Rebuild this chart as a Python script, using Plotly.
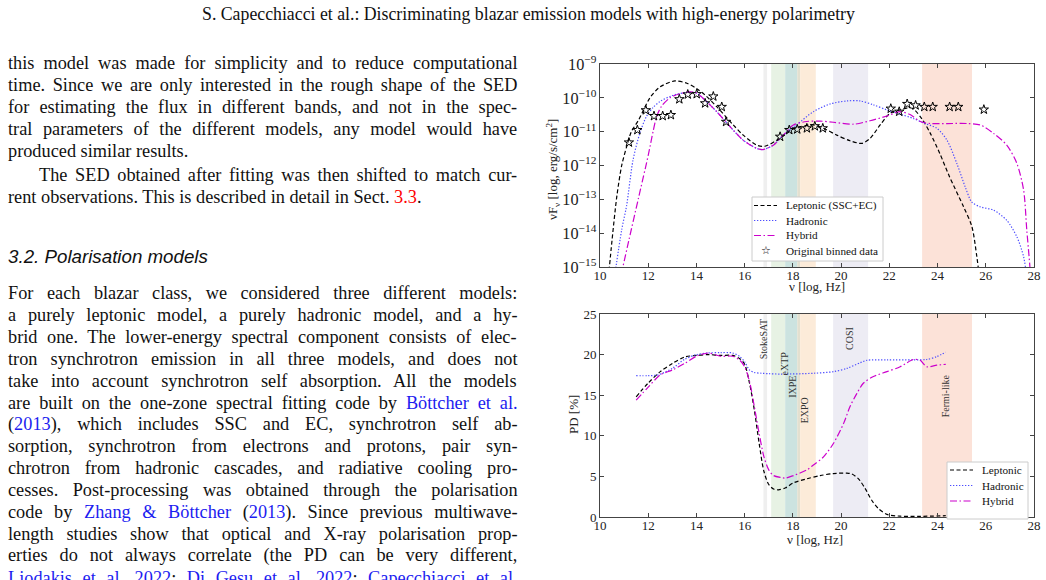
import glob
import struct
import plotly.graph_objects as go

# ---------------- data ----------------
# SED panel (nu F_nu in erg/s/cm^2 vs log10 nu)
sed_lep_x = [10.35, 10.5, 10.7, 10.9, 11.1, 11.3, 11.6, 12.07, 12.49, 13.11, 13.6, 14.0, 14.36, 14.84,
             15.52, 15.94, 16.5, 16.84, 17.33, 17.9, 18.3, 18.85, 19.27, 19.82, 20.37, 20.86, 21.2,
             21.62, 22.03, 22.45, 22.8, 23.0, 23.35, 23.7, 24.1, 24.5, 25.08, 25.42, 25.63, 25.75]
sed_lep_y = [5e-16, 6.3e-15, 1.26e-13, 1.0e-12, 3.5e-12, 1.0e-11, 2.2e-11, 1.0e-10, 2.1e-10, 3.15e-10,
             2.7e-10, 1.9e-10, 1.2e-10, 5.5e-11, 1.6e-11, 7.9e-12, 4.0e-12, 3.7e-12, 5.6e-12, 1.12e-11,
             1.41e-11, 1.58e-11, 1.26e-11, 7.9e-12, 5.4e-12, 4.5e-12, 6.3e-12, 1.58e-11, 3.5e-11,
             4.4e-11, 5.1e-11, 4.7e-11, 2.4e-11, 8.9e-12, 2.2e-12, 4.6e-13, 6.0e-14, 1.6e-14, 2.0e-15,
             4.0e-16]
sed_had_x = [10.6, 10.9, 11.1, 11.37, 11.65, 11.92, 12.2, 12.5, 13.0, 13.6, 14.0, 14.36, 14.84, 15.52,
             15.94, 16.5, 16.75, 17.19, 17.6, 18.16, 18.85, 19.55, 20.24, 20.79, 21.34, 21.9, 22.45,
             23.0, 23.42, 23.97, 24.39, 24.8, 25.15, 25.42, 25.77, 26.32, 26.87, 27.29, 27.57, 27.72]
sed_had_y = [5e-16, 1.26e-14, 6.3e-14, 1.45e-12, 8.9e-12, 2.75e-11, 5.2e-11, 7.9e-11, 1.17e-10,
             1.45e-10, 1.38e-10, 8.5e-11, 3.9e-11, 1.12e-11, 5.6e-12, 3.2e-12, 2.95e-12, 4.0e-12,
             7.9e-12, 1.6e-11, 3.9e-11, 6.6e-11, 8.1e-11, 8.1e-11, 6.2e-11, 4.4e-11, 3.3e-11, 2.45e-11,
             1.8e-11, 1.26e-11, 5.6e-12, 1.15e-12, 2.3e-13, 8.3e-14, 6.0e-14, 4.8e-14, 2.4e-14,
             7.8e-15, 2.0e-15, 4.0e-16]
sed_hyb_x = [10.88, 11.2, 11.6, 12.0, 12.2, 12.35, 12.55, 12.9, 13.3, 13.7, 14.0, 14.36, 14.84, 15.52,
             15.94, 16.5, 16.75, 17.19, 17.6, 18.02, 18.58, 19.13, 19.68, 20.51, 21.2, 21.9, 22.45,
             22.86, 23.28, 23.7, 24.39, 25.22, 25.77, 26.32, 26.87, 27.29, 27.57, 27.7, 27.82, 27.86]
sed_hyb_y = [6e-16, 6.3e-15, 1.12e-13, 2.0e-12, 1.0e-11, 2.8e-11, 5.6e-11, 1.0e-10, 1.32e-10, 1.5e-10,
             1.4e-10, 8.5e-11, 3.9e-11, 1.12e-11, 5.6e-12, 3.2e-12, 2.95e-12, 4.0e-12, 7.9e-12,
             1.58e-11, 2.0e-11, 2.05e-11, 1.9e-11, 1.66e-11, 2.1e-11, 2.9e-11, 3.9e-11, 3.2e-11,
             2.0e-11, 1.74e-11, 1.74e-11, 1.74e-11, 1.58e-11, 8.9e-12, 4.0e-12, 1.15e-12, 1.86e-13,
             1.26e-14, 1.26e-15, 5e-16]
data_x = [11.20, 11.55, 11.90, 12.24, 12.60, 12.94, 13.29, 13.64, 14.01, 14.36, 14.70, 15.05, 15.23,
          17.47, 17.85, 18.18, 18.58, 18.91, 19.24, 22.06, 22.41, 22.74, 23.09, 23.45, 23.80, 24.50,
          24.86, 25.92]
data_y = [4.8e-12, 1.12e-11, 4.3e-11, 2.9e-11, 2.9e-11, 3.1e-11, 9.1e-11, 1.26e-10, 1.29e-10, 6.9e-11,
          1.1e-10, 5.4e-11, 1.95e-11, 7.1e-12, 1.12e-11, 1.17e-11, 1.26e-11, 1.45e-11, 1.26e-11,
          4.8e-11, 3.9e-11, 6.6e-11, 6.0e-11, 5.4e-11, 5.4e-11, 5.4e-11, 5.4e-11, 4.5e-11]

# PD panel (%)
pd_lep_x = [11.5, 12.0, 12.5, 13.0, 13.5, 14.0, 14.5, 15.0, 15.5, 15.8, 16.0, 16.2, 16.4, 16.6, 16.8,
            17.0, 17.2, 17.4, 17.7, 18.02, 18.58, 19.13, 19.68, 20.24, 20.44, 20.72, 21.0, 21.27,
            21.55, 21.9, 22.45, 23.28, 24.34]
pd_lep_y = [14.8, 16.5, 17.9, 18.9, 19.7, 19.9, 20.0, 19.9, 19.9, 19.5, 18.8, 16.5, 13.2, 9.1, 5.6,
            4.0, 3.45, 3.35, 3.6, 4.2, 4.7, 5.1, 5.35, 5.4, 5.3, 4.7, 3.5, 2.06, 1.03, 0.33, 0.1, 0.08,
            0.16]
pd_had_x = [11.5, 12.0, 12.4, 13.0, 13.5, 14.0, 14.5, 15.0, 15.5, 15.8, 16.0, 16.2, 16.4, 16.7, 17.0,
            17.47, 18.85, 19.68, 20.24, 20.79, 21.07, 21.9, 23.0, 23.55, 23.97, 24.34]
pd_had_y = [17.4, 17.4, 17.5, 18.3, 19.4, 20.0, 20.2, 20.25, 20.2, 19.75, 19.1, 18.1, 17.8, 17.7,
            17.65, 17.6, 17.7, 17.9, 18.3, 19.0, 19.3, 19.35, 19.35, 19.4, 19.75, 20.3]
pd_hyb_x = [11.5, 12.0, 12.5, 13.0, 13.5, 14.0, 14.5, 15.0, 15.5, 15.8, 16.0, 16.2, 16.4, 16.6, 16.8,
            17.0, 17.2, 17.5, 17.7, 18.02, 18.58, 18.85, 19.27, 19.68, 20.1, 20.37, 20.65, 20.93,
            21.34, 21.9, 22.45, 23.0, 23.28, 23.55, 23.97, 24.34]
pd_hyb_y = [14.4, 16.0, 17.5, 18.1, 18.9, 19.8, 20.2, 19.8, 19.8, 19.3, 18.5, 16.7, 13.6, 10.3, 7.4,
            5.8, 5.1, 4.86, 4.8, 5.1, 5.8, 6.4, 7.4, 9.05, 11.5, 13.6, 15.2, 16.5, 17.3, 17.9, 18.5,
            19.4, 19.3, 18.5, 18.7, 18.8]

# Instrument bands (log nu edges) and labels
band_x0 = [16.78, 17.10, 17.68, 18.18, 18.30, 19.67, 23.36]
band_x1 = [16.93, 17.68, 18.18, 18.30, 18.95, 21.12, 25.43]
band_labels = ["StokeSAT", "eXTP", "IXPE", "EXPO", "COSI", "Fermi-like"]
band_label_x = [16.76, 17.67, 17.95, 18.48, 20.35, 24.32]
band_label_y = [22.0, 18.9, 16.0, 13.2, 22.0, 14.9]

x_ticks = [10, 12, 14, 16, 18, 20, 22, 24, 26, 28]
pd_ticks = [0, 5, 10, 15, 20, 25]

sed_legend_names = ["Leptonic (SSC+EC)", "Hadronic", "Hybrid", "Original binned data"]
pd_legend_names = ["Leptonic", "Hadronic", "Hybrid"]

# ---------------- page text ----------------
HEADER = "S. Capecchiacci et al.: Discriminating blazar emission models with high-energy polarimetry"
HEADING = "3.2. Polarisation models"
R, B = "#ff0000", "#1c1cf0"
# (segments, justified, indent)
LINES_1 = [
    ([("this model was made for simplicity and to reduce computational", None)], True, False),
    ([("time. Since we are only interested in the rough shape of the SED", None)], True, False),
    ([("for estimating the flux in different bands, and not in the spec-", None)], True, False),
    ([("tral parameters of the different models, any model would have", None)], True, False),
    ([("produced similar results.", None)], False, False),
    ([("The SED obtained after fitting was then shifted to match cur-", None)], True, True),
    ([("rent observations. This is described in detail in Sect. ", None), ("3.3", R), (".", None)], False, False),
]
LINES_2 = [
    ([("For each blazar class, we considered three different models:", None)], True, False),
    ([("a purely leptonic model, a purely hadronic model, and a hy-", None)], True, False),
    ([("brid one. The lower-energy spectral component consists of elec-", None)], True, False),
    ([("tron synchrotron emission in all three models, and does not", None)], True, False),
    ([("take into account synchrotron self absorption. All the models", None)], True, False),
    ([("are built on the one-zone spectral fitting code by ", None), ("Böttcher et al.", B)], True, False),
    ([("(", None), ("2013", B), ("), which includes SSC and EC, synchrotron self ab-", None)], True, False),
    ([("sorption, synchrotron from electrons and protons, pair syn-", None)], True, False),
    ([("chrotron from hadronic cascades, and radiative cooling pro-", None)], True, False),
    ([("cesses. Post-processing was obtained through the polarisation", None)], True, False),
    ([("code by ", None), ("Zhang & Böttcher", B), (" (", None), ("2013", B),
      ("). Since previous multiwave-", None)], True, False),
    ([("length studies show that optical and X-ray polarisation prop-", None)], True, False),
    ([("erties do not always correlate (the PD can be very different,", None)], True, False),
    ([("Liodakis et al. 2022", B), ("; ", None), ("Di Gesu et al. 2022", B), ("; ", None),
      ("Capecchiacci et al.", B)], True, False),
]
LINES_1_Y = [63, 85, 107, 128.7, 150.6, 175, 197]
LINES_2_Y = [293.0, 314.9, 336.8, 358.7, 380.6, 402.5, 424.4, 446.3, 468.2, 490.1, 512.0, 533.9,
             555.8, 577.7]

W, H = 1046, 580
TEXT_LEFT, TEXT_RIGHT, INDENT = 7, 517, 38
BODY_SIZE = 18.3


# ---------------- minimal TrueType advance-width reader ----------------
class TTF:
    def __init__(self, path):
        d = open(path, "rb").read()
        self.d = d
        n = struct.unpack(">H", d[4:6])[0]
        t = {}
        for i in range(n):
            tag, _, off, ln = struct.unpack(">4sIII", d[12 + 16 * i:28 + 16 * i])
            t[tag.decode("latin1")] = off
        self.upm = struct.unpack(">H", d[t["head"] + 18:t["head"] + 20])[0]
        nhm = struct.unpack(">H", d[t["hhea"] + 34:t["hhea"] + 36])[0]
        hm = t["hmtx"]
        self.adv = [struct.unpack(">H", d[hm + 4 * i:hm + 4 * i + 2])[0] for i in range(nhm)]
        cm = t["cmap"]
        nsub = struct.unpack(">H", d[cm + 2:cm + 4])[0]
        sub = None
        for i in range(nsub):
            pid, eid, off = struct.unpack(">HHI", d[cm + 4 + 8 * i:cm + 12 + 8 * i])
            fmt = struct.unpack(">H", d[cm + off:cm + off + 2])[0]
            if fmt == 4 and (pid == 3 or pid == 0):
                sub = cm + off
                break
        segx2 = struct.unpack(">H", d[sub + 6:sub + 8])[0]
        self.seg = segx2 // 2
        self.endp = sub + 14
        self.startp = sub + 16 + segx2
        self.deltap = sub + 16 + 2 * segx2
        self.rangep = sub + 16 + 3 * segx2
        self.cache = {}

    def _u16(self, p):
        return struct.unpack(">H", self.d[p:p + 2])[0]

    def gid(self, c):
        for i in range(self.seg):
            if self._u16(self.endp + 2 * i) >= c:
                start = self._u16(self.startp + 2 * i)
                if start > c:
                    return 0
                delta = struct.unpack(">h", self.d[self.deltap + 2 * i:self.deltap + 2 * i + 2])[0]
                ro = self._u16(self.rangep + 2 * i)
                if ro == 0:
                    return (c + delta) & 0xFFFF
                g = self._u16(self.rangep + 2 * i + ro + 2 * (c - start))
                return (g + delta) & 0xFFFF if g else 0
        return 0

    def width(self, s, size):
        tot = 0
        for ch in s:
            if ch not in self.cache:
                g = self.gid(ord(ch))
                self.cache[ch] = self.adv[g] if g < len(self.adv) else self.adv[-1]
            tot += self.cache[ch]
        return tot * size / self.upm


def find_font(name):
    hits = glob.glob("/usr/share/fonts/**/" + name, recursive=True)
    if not hits:
        hits = glob.glob("/usr/**/" + name, recursive=True)
    return TTF(hits[0]) if hits else None


try:
    SERIF = find_font("LiberationSerif-Regular.ttf")
except Exception:
    SERIF = None
try:
    SANS_I = find_font("LiberationSans-Italic.ttf")
except Exception:
    SANS_I = None


def fit_size(font, text, target, default):
    if font is None:
        return default
    return target * font.upm / font.width(text, font.upm)


def esc(s):
    return s.replace("&", "&amp;").replace("<", "&lt;").replace(">", "&gt;")


def build_line(segments, justified, indent):
    plain = "".join(s for s, _ in segments)
    x0 = INDENT if indent else TEXT_LEFT
    ws = 0.0
    if justified and SERIF is not None:
        nat = SERIF.width(plain, BODY_SIZE)
        nsp = plain.count(" ")
        if nsp:
            ws = (TEXT_RIGHT - x0 - nat) / nsp
    inner = ""
    for s, col in segments:
        if col:
            inner += '<span style="color:%s">%s</span>' % (col, esc(s))
        else:
            inner += esc(s)
    if abs(ws) > 0.01:
        inner = '<span style="word-spacing:%.2fpx">%s</span>' % (ws, inner)
    return inner, x0


def px(x):
    return x / W


def py(y):
    return 1 - y / H


def paper_text(text, x, y, size, family="Liberation Serif", color="#111", xanchor="center",
               angle=0):
    return dict(text=text, x=px(x), y=py(y), xref="paper", yref="paper", showarrow=False,
                xanchor=xanchor, yanchor="middle", textangle=angle,
                font=dict(family=family, size=size, color=color))


# ---------------- figure ----------------
SERIF_FONT = "Liberation Serif"
fig = go.Figure()

# matplotlib-like dash patterns: dashed, dotted, dash-dot
line_styles = [("black", "4px,2.5px"), ("#4d4dff", "1.3px,1.7px"), ("#cc00cc", "7px,2.5px,1.5px,2.5px")]
sed_sets = [(sed_lep_x, sed_lep_y), (sed_had_x, sed_had_y), (sed_hyb_x, sed_hyb_y)]
pd_sets = [(pd_lep_x, pd_lep_y), (pd_had_x, pd_had_y), (pd_hyb_x, pd_hyb_y)]

for name, (col, dash), (xs, ys) in zip(sed_legend_names, line_styles, sed_sets):
    fig.add_trace(go.Scatter(x=xs, y=ys, mode="lines", name=name, xaxis="x", yaxis="y",
                             line=dict(color=col, dash=dash, width=1.2, shape="spline", smoothing=0.8),
                             showlegend=False))
fig.add_trace(go.Scatter(x=data_x, y=data_y, mode="markers", name=sed_legend_names[3],
                         xaxis="x", yaxis="y", showlegend=False,
                         marker=dict(symbol="star-open", size=7, color="black",
                                     line=dict(width=1, color="black"))))
for name, (col, dash), (xs, ys) in zip(pd_legend_names, line_styles, pd_sets):
    fig.add_trace(go.Scatter(x=xs, y=ys, mode="lines", name=name, xaxis="x2", yaxis="y2",
                             line=dict(color=col, dash=dash, width=1.2, shape="spline", smoothing=0.8),
                             showlegend=False))

band_colors = ["#efefef", "#e7f2e4", "#cce3e0", "#e3e0d0", "#fcebd9", "#edecf4", "#fce2d8"]
shapes = []
for xa, ya in [("x", "y"), ("x2", "y2")]:
    for x0, x1, c in zip(band_x0, band_x1, band_colors):
        shapes.append(dict(type="rect", xref=xa, yref=ya + " domain",
                           x0=x0, x1=x1, y0=0, y1=1, fillcolor=c, line=dict(width=0), layer="below"))

annotations = []
for lab, lx, ly in zip(band_labels, band_label_x, band_label_y):
    annotations.append(dict(text=lab, x=lx, y=ly, xref="x2", yref="y2", showarrow=False,
                            xanchor="center", yanchor="middle",
                            textangle=-90, font=dict(family=SERIF_FONT, size=10, color="#333")))

# ----- legends (compact boxes like the matplotlib originals) -----
leg_size = fit_size(SERIF, "Original binned data", 92, 11)


def draw_legend(box, rows, names, sample_x, text_x, star_row=None):
    x0, y0, x1, y1 = box
    shapes.append(dict(type="rect", xref="paper", yref="paper", x0=px(x0), x1=px(x1),
                       y0=py(y1), y1=py(y0), fillcolor="white",
                       line=dict(color="#cccccc", width=1), layer="above"))
    for i, (name, ry) in enumerate(zip(names, rows)):
        if i < len(line_styles) and i != star_row:
            col, dash = line_styles[i]
            shapes.append(dict(type="line", xref="paper", yref="paper", x0=px(sample_x[0]),
                               x1=px(sample_x[1]), y0=py(ry), y1=py(ry),
                               line=dict(color=col, dash=dash, width=1.2), layer="above"))
        else:
            annotations.append(paper_text("☆", (sample_x[0] + sample_x[1]) / 2, ry, 11,
                                          family="DejaVu Sans", color="black"))
        annotations.append(paper_text(name, text_x, ry, leg_size, xanchor="left"))


draw_legend((752, 197, 883, 261), [205.5, 220.5, 235.5, 250.5], sed_legend_names,
            (754, 777), 784, star_row=3)
draw_legend((947, 462, 1028, 519), [470, 485.5, 501], pd_legend_names, (950, 973), 980)

# axis titles
annotations += [
    paper_text("ν [log, Hz]", 817, 287, 13, color="#222"),
    paper_text("ν [log, Hz]", 815, 539, 13, color="#222"),
    paper_text("νF<sub>ν</sub> [log, erg/s/cm<sup>2</sup>]", 553, 170, 13, color="#222", angle=-90),
    paper_text("PD [%]", 573, 415, 13, color="#222", angle=-90),
]

# page header and body text
annotations.append(paper_text(HEADER, 528, 14, fit_size(SERIF, HEADER, 654, 16.5)))
annotations.append(paper_text("<i>%s</i>" % HEADING, TEXT_LEFT - 1, 257,
                              fit_size(SANS_I, HEADING, 200, 17), family="Liberation Sans",
                              xanchor="left"))
for lines, ys in [(LINES_1, LINES_1_Y), (LINES_2, LINES_2_Y)]:
    for (segs, just, ind), ly in zip(lines, ys):
        txt, x0 = build_line(segs, just, ind)
        annotations.append(paper_text(txt, x0 - 1, ly, BODY_SIZE, xanchor="left"))

axis_common = dict(showline=True, linecolor="#444", linewidth=1, mirror="ticks", ticks="inside",
                   ticklen=4, tickcolor="#444", showgrid=False, zeroline=False, automargin=False,
                   tickfont=dict(family=SERIF_FONT, size=13, color="#222"))
x_dom = [px(600), px(1034)]
fig.update_layout(
    width=W, height=H, margin=dict(l=0, r=0, t=0, b=0, pad=0, autoexpand=False),
    paper_bgcolor="white", plot_bgcolor="rgba(0,0,0,0)",
    xaxis=dict(domain=x_dom, range=[10, 28], tickvals=x_ticks, anchor="y", ticklabelstandoff=-4,
               **axis_common),
    yaxis=dict(domain=[py(267), py(64)], type="log", range=[-15, -9], dtick=1,
               exponentformat="power", anchor="x", **axis_common),
    xaxis2=dict(domain=x_dom, range=[10, 28], tickvals=x_ticks, anchor="y2", ticklabelstandoff=-4,
                **axis_common),
    yaxis2=dict(domain=[py(517), py(314)], range=[0, 25], tickvals=pd_ticks, anchor="x2",
                **axis_common),
    shapes=shapes,
    annotations=annotations,
    showlegend=False,
)

fig.write_html("out.html", config={"displayModeBar": False})
